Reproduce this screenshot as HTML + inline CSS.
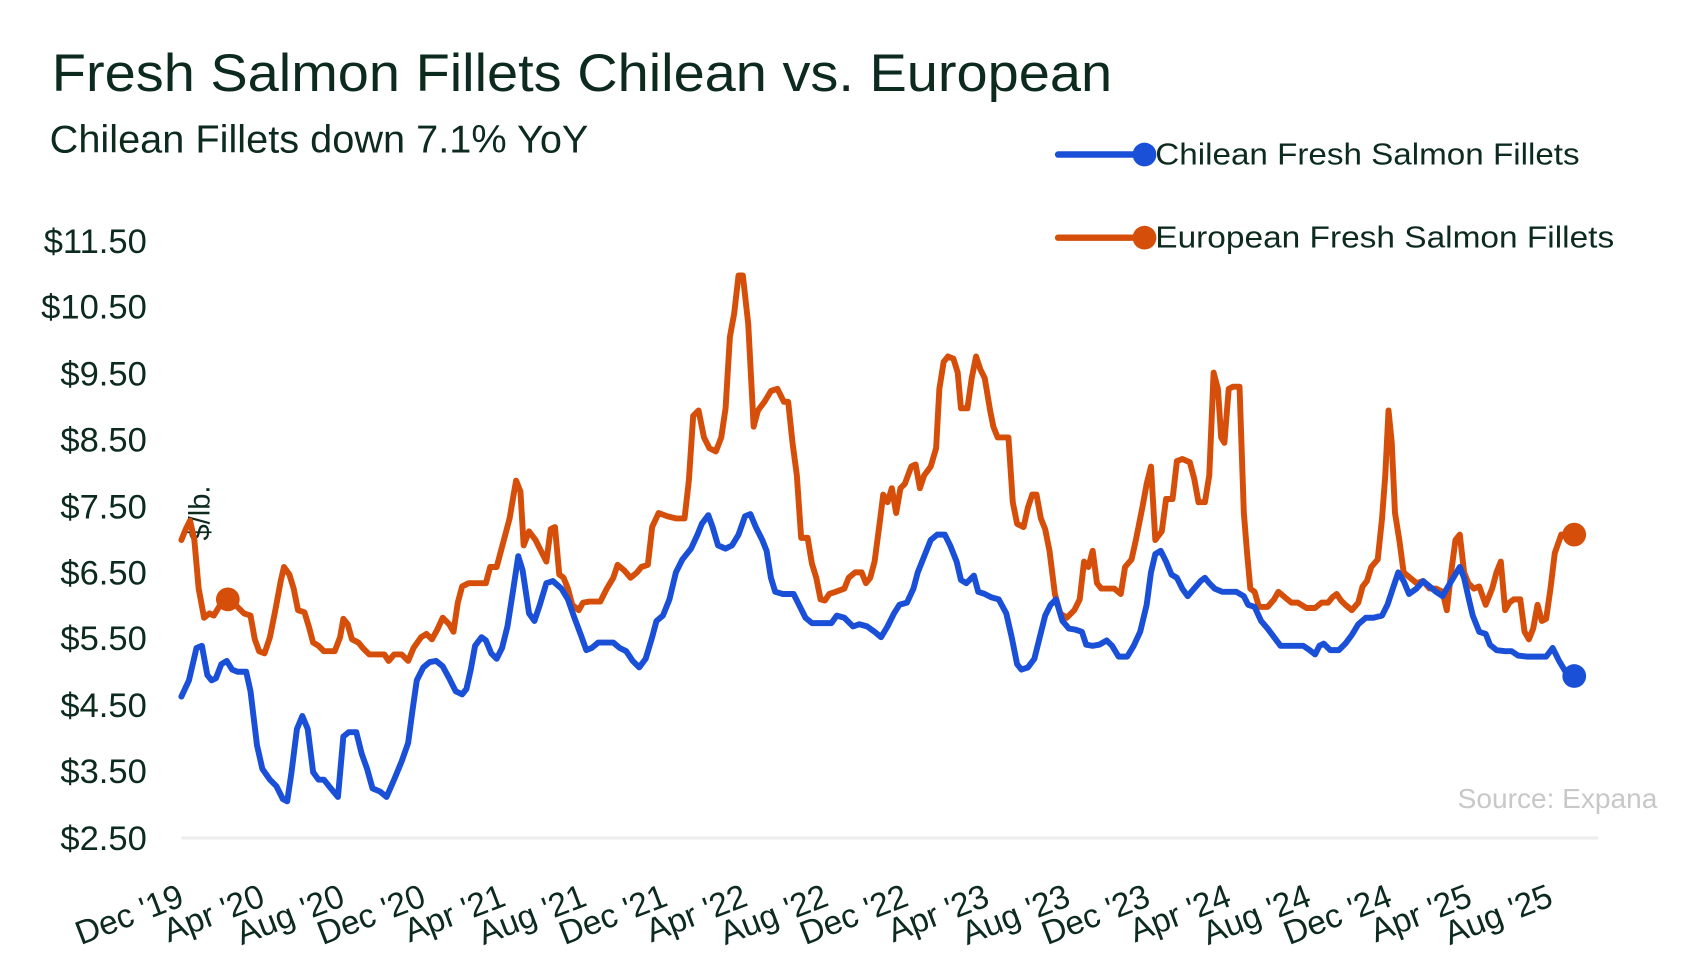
<!DOCTYPE html>
<html><head><meta charset="utf-8"><style>
html,body{margin:0;padding:0;background:#fff;}
svg{display:block;}
text{font-family:"Liberation Sans",sans-serif;fill:#0d2a1f;}
</style></head><body>
<svg width="1693" height="958" viewBox="0 0 1568 887" xmlns="http://www.w3.org/2000/svg">
<text x="48" y="84" font-size="49" textLength="982" lengthAdjust="spacingAndGlyphs">Fresh Salmon Fillets Chilean vs. European</text>
<text x="46" y="141" font-size="36" textLength="499" lengthAdjust="spacingAndGlyphs">Chilean Fillets down 7.1% YoY</text>
<line x1="980" y1="143" x2="1058" y2="143" stroke="#1a4fd8" stroke-width="6" stroke-linecap="round"/>
<circle cx="1060" cy="143" r="11" fill="#1a4fd8"/>
<text x="1070" y="152" font-size="28" textLength="393" lengthAdjust="spacingAndGlyphs">Chilean Fresh Salmon Fillets</text>
<line x1="980" y1="220" x2="1058" y2="220" stroke="#d64f0a" stroke-width="6" stroke-linecap="round"/>
<circle cx="1060" cy="220" r="11" fill="#d64f0a"/>
<text x="1070" y="229" font-size="28" textLength="425" lengthAdjust="spacingAndGlyphs">European Fresh Salmon Fillets</text>
<g font-size="32" text-anchor="end">
<text x="136" y="234">$11.50</text>
<text x="136" y="295">$10.50</text>
<text x="136" y="357">$9.50</text>
<text x="136" y="418">$8.50</text>
<text x="136" y="480">$7.50</text>
<text x="136" y="541">$6.50</text>
<text x="136" y="602">$5.50</text>
<text x="136" y="664">$4.50</text>
<text x="136" y="725">$3.50</text>
<text x="136" y="787">$2.50</text>
</g>
<text transform="translate(194,475) rotate(-90)" font-size="27" text-anchor="middle">$/lb.</text>
<line x1="168" y1="776" x2="1480" y2="776" stroke="#eeeeee" stroke-width="3"/>
<text x="1535" y="748" font-size="26" text-anchor="end" style="fill:#c8c8c8">Source: Expana</text>
<g font-size="31" text-anchor="end">
<text transform="translate(172,838) rotate(-21)">Dec '19</text>
<text transform="translate(247,838) rotate(-21)">Apr '20</text>
<text transform="translate(321,838) rotate(-21)">Aug '20</text>
<text transform="translate(396,838) rotate(-21)">Dec '20</text>
<text transform="translate(470,838) rotate(-21)">Apr '21</text>
<text transform="translate(545,838) rotate(-21)">Aug '21</text>
<text transform="translate(620,838) rotate(-21)">Dec '21</text>
<text transform="translate(694,838) rotate(-21)">Apr '22</text>
<text transform="translate(769,838) rotate(-21)">Aug '22</text>
<text transform="translate(843,838) rotate(-21)">Dec '22</text>
<text transform="translate(918,838) rotate(-21)">Apr '23</text>
<text transform="translate(993,838) rotate(-21)">Aug '23</text>
<text transform="translate(1067,838) rotate(-21)">Dec '23</text>
<text transform="translate(1142,838) rotate(-21)">Apr '24</text>
<text transform="translate(1216,838) rotate(-21)">Aug '24</text>
<text transform="translate(1291,838) rotate(-21)">Dec '24</text>
<text transform="translate(1365,838) rotate(-21)">Apr '25</text>
<text transform="translate(1440,838) rotate(-21)">Aug '25</text>
</g>
<polyline fill="none" stroke="#d64f0a" stroke-width="5.5" stroke-linejoin="round" stroke-linecap="round" points="168,500 172,490 176,482 180,500 184,545 189,572 194,568 198,570 204,560 210,558 218,560 226,568 232,570 236,592 240,603 245,605 250,590 255,565 260,538 263,525 268,532 272,545 276,565 282,567 286,580 290,595 295,598 300,603 310,603 315,590 318,573 322,578 326,592 332,595 336,600 342,606 350,606 356,606 360,612 365,606 372,606 378,612 383,600 390,590 395,587 400,592 405,583 410,572 416,578 420,585 424,558 428,543 434,540 444,540 450,540 454,525 460,525 464,510 468,495 472,480 475,462 478,445 482,455 485,505 490,492 496,500 500,508 506,520 510,490 514,488 518,532 522,535 526,545 530,560 536,565 540,558 546,557 556,557 562,545 568,535 572,523 578,528 584,535 590,530 594,525 600,523 604,488 610,475 618,478 626,480 634,480 638,445 642,385 647,380 652,405 657,415 663,418 668,405 672,378 676,312 680,290 684,255 688,255 693,300 698,395 702,380 708,372 714,362 720,360 726,372 730,372 734,410 738,440 742,498 748,498 752,522 756,535 760,555 764,556 768,550 774,548 782,545 786,535 792,530 798,530 802,540 806,535 810,520 815,482 818,458 822,465 826,452 830,475 834,452 838,448 844,432 848,430 852,452 856,440 862,432 867,415 870,360 874,335 878,330 883,332 887,345 890,378 896,378 900,350 904,330 908,342 912,350 917,380 920,395 924,405 928,405 934,405 938,465 942,485 948,488 952,470 956,458 960,458 964,480 968,490 972,510 977,550 982,568 988,572 995,565 1000,555 1004,520 1008,525 1012,510 1016,540 1020,545 1026,545 1032,545 1038,550 1042,525 1048,518 1052,500 1058,470 1062,448 1066,432 1070,500 1076,492 1080,462 1086,462 1090,427 1095,425 1102,428 1106,443 1110,465 1116,465 1120,440 1124,345 1128,360 1131,405 1134,410 1138,360 1142,358 1148,358 1152,475 1155,512 1158,545 1162,548 1166,562 1174,562 1180,555 1184,548 1190,553 1196,558 1202,558 1210,563 1218,563 1224,558 1230,558 1234,553 1238,550 1242,556 1246,560 1252,565 1258,558 1262,543 1266,538 1270,525 1276,518 1280,480 1283,440 1286,380 1289,410 1292,475 1296,500 1300,530 1306,535 1312,540 1318,538 1324,545 1330,545 1336,548 1340,565 1344,530 1348,500 1352,495 1356,530 1360,540 1365,545 1370,543 1376,560 1382,545 1386,530 1390,520 1394,565 1398,558 1402,555 1408,555 1412,585 1416,592 1420,582 1424,560 1428,575 1432,573 1436,545 1440,512 1446,495 1452,495 1458,495"/>
<polyline fill="none" stroke="#1a4fd8" stroke-width="5.5" stroke-linejoin="round" stroke-linecap="round" points="168,645 175,630 182,600 187,598 192,625 196,630 200,628 205,615 210,612 215,620 220,622 228,622 232,640 238,690 243,712 250,722 256,728 262,740 266,742 270,715 275,675 280,663 285,675 290,715 295,722 300,722 308,732 313,738 318,682 323,678 330,678 335,698 340,712 345,730 352,733 358,738 365,722 372,705 378,688 382,658 386,630 392,618 398,613 404,612 410,617 416,628 422,640 428,643 432,638 436,620 440,598 446,590 450,593 455,605 460,610 465,600 470,580 475,548 480,515 484,528 490,568 495,575 500,560 506,540 512,538 520,545 526,555 532,572 538,588 543,602 548,600 554,595 560,595 568,595 574,600 580,603 586,612 592,618 598,610 604,590 608,575 614,570 620,555 626,530 632,518 640,508 646,495 650,485 656,477 660,488 665,505 672,508 678,505 684,495 690,478 695,476 700,488 706,500 710,510 714,535 718,548 725,550 735,550 740,560 746,572 752,577 760,577 770,577 775,570 782,572 790,580 796,578 803,580 810,585 816,590 822,580 828,568 833,560 840,558 846,545 850,530 856,515 862,500 868,495 875,495 880,505 886,520 890,537 895,540 902,533 906,548 912,550 918,553 925,555 932,568 937,590 942,615 946,620 952,618 958,610 963,590 968,570 973,560 978,555 984,575 990,582 996,583 1002,585 1006,597 1012,598 1018,597 1025,593 1030,598 1036,608 1044,608 1050,598 1056,585 1062,560 1066,530 1070,513 1075,510 1080,520 1085,532 1090,535 1095,545 1100,552 1106,545 1112,538 1116,535 1120,540 1125,545 1132,548 1140,548 1145,548 1152,552 1156,560 1162,562 1168,575 1174,582 1180,590 1186,598 1192,598 1200,598 1207,598 1213,602 1218,606 1222,598 1226,596 1232,602 1240,602 1246,596 1252,588 1258,578 1265,572 1272,572 1280,570 1285,560 1290,545 1295,530 1300,538 1305,550 1312,545 1318,538 1324,543 1330,548 1336,552 1340,545 1346,535 1352,525 1356,535 1360,553 1364,570 1370,585 1376,587 1380,597 1386,602 1394,603 1400,603 1406,607 1414,608 1424,608 1432,608 1438,600 1444,612 1450,622 1458,626"/>
<circle cx="211" cy="555" r="11" fill="#d64f0a"/>
<circle cx="1458" cy="495" r="11" fill="#d64f0a"/>
<circle cx="1458" cy="626" r="11" fill="#1a4fd8"/>
</svg>
</body></html>
